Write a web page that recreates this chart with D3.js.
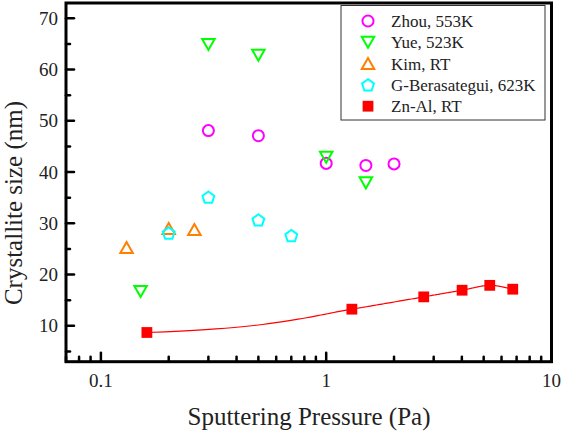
<!DOCTYPE html>
<html><head><meta charset="utf-8">
<script src="https://cdn.jsdelivr.net/npm/d3@7"></script>
<style>
body{margin:0;background:#fff;}
svg{display:block;}
svg text{font-family:'Liberation Serif','Times New Roman',Times,'DejaVu Serif',serif;}
</style></head>
<body>
<svg id="c" width="561" height="438"></svg>
<script>
// ---- data ----
const zhouP = [0.3, 0.5, 1.0, 1.5, 2.0];
const zhouS = [48.1, 47.1, 41.7, 41.3, 41.6];
const yueP = [0.15, 0.3, 0.5, 1.0, 1.5];
const yueS = [16.7, 64.9, 62.8, 42.9, 37.9];
const kimP = [0.13, 0.2, 0.26];
const kimS = [25.3, 29.0, 28.8];
const gbP = [0.2, 0.3, 0.5, 0.7];
const gbS = [28.1, 35.1, 30.65, 27.6];
const znP = [0.16, 1.3, 2.71, 4.01, 5.32, 6.73];
const znS = [8.7, 13.25, 15.65, 16.95, 17.9, 17.15];
const seriesNames = ["Zhou, 553K", "Yue, 523K", "Kim, RT", "G-Berasategui, 623K", "Zn-Al, RT"];
const xTickVals = [0.1, 1, 10];
const xTickLabels = ["0.1", "1", "10"];
const yTickVals = [10, 20, 30, 40, 50, 60, 70];

const FONT = "'Liberation Serif','Times New Roman',Times,serif";

// ---- layout ----
const svg = d3.select("#c");
const L = 66, R = 551.5, T = 3, B = 361.7;
const x = d3.scaleLog().domain([0.07, 10]).range([L, R]);
const y = d3.scaleLinear().domain([3, 73]).range([B, T]);

function markerPath(type, s) {
  const p = d3.path();
  if (type === "circle") { p.arc(0, 0, s * 0.46, 0, 2 * Math.PI); }
  else if (type === "down") { const w = s * 0.52, h = s * 0.46; p.moveTo(-w, -h); p.lineTo(w, -h); p.lineTo(0, h); p.closePath(); }
  else if (type === "up") { const w = s * 0.52, h = s * 0.46; p.moveTo(-w, h); p.lineTo(w, h); p.lineTo(0, -h); p.closePath(); }
  else if (type === "pent") { const r = s * 0.52; for (let i = 0; i < 5; i++) { const a = -Math.PI / 2 + i * 2 * Math.PI / 5; const px = r * Math.cos(a), py = r * Math.sin(a) + r * 0.08; i ? p.lineTo(px, py) : p.moveTo(px, py); } p.closePath(); }
  else if (type === "square") { const h = s * 0.45; p.rect(-h, -h, 2 * h, 2 * h); }
  return p.toString();
}
const series = [
  {name: seriesNames[0], P: zhouP, S: zhouS, type: "circle", color: "#ff00ff", fill: false},
  {name: seriesNames[1], P: yueP, S: yueS, type: "down", color: "#00ff00", fill: false},
  {name: seriesNames[2], P: kimP, S: kimS, type: "up", color: "#ff7f00", fill: false},
  {name: seriesNames[3], P: gbP, S: gbS, type: "pent", color: "#00ffff", fill: false},
  {name: seriesNames[4], P: znP, S: znS, type: "square", color: "#ff0000", fill: true}
];

// Zn-Al smooth line: monotone cubic through the points in linear pressure, drawn on the log axis
function monotoneSpline(xs, ys) {
  const n = xs.length, d = [], m = [];
  for (let i = 0; i < n - 1; i++) d.push((ys[i + 1] - ys[i]) / (xs[i + 1] - xs[i]));
  m[0] = d[0]; m[n - 1] = d[n - 2];
  for (let i = 1; i < n - 1; i++) {
    if (d[i - 1] * d[i] <= 0) m[i] = 0;
    else { const h0 = xs[i] - xs[i - 1], h1 = xs[i + 1] - xs[i]; const w1 = 2 * h1 + h0, w2 = h1 + 2 * h0; m[i] = (w1 + w2) / (w1 / d[i - 1] + w2 / d[i]); }
  }
  return function (t) {
    let i = 0; while (i < n - 2 && t > xs[i + 1]) i++;
    const h = xs[i + 1] - xs[i], s = (t - xs[i]) / h;
    const h00 = 2 * s * s * s - 3 * s * s + 1, h10 = s * s * s - 2 * s * s + s, h01 = -2 * s * s * s + 3 * s * s, h11 = s * s * s - s * s;
    return h00 * ys[i] + h10 * h * m[i] + h01 * ys[i + 1] + h11 * h * m[i + 1];
  };
}
const spl = monotoneSpline(znP, znS);
const curvePts = d3.range(0, 201).map(k => { const t = znP[0] + (znP[znP.length - 1] - znP[0]) * k / 200; return [t, spl(t)]; });
const line = d3.line().x(d => x(d[0])).y(d => y(d[1]));
svg.append("path").attr("d", line(curvePts))
  .attr("fill", "none").attr("stroke", "#ff0000").attr("stroke-width", 1.2);

// markers
series.forEach(s => {
  svg.append("g").selectAll("path").data(s.P.map((p, i) => [p, s.S[i]])).join("path")
    .attr("transform", d => `translate(${x(d[0])},${y(d[1])})`)
    .attr("d", markerPath(s.type, 12))
    .attr("fill", s.fill ? s.color : "none")
    .attr("stroke", s.color).attr("stroke-width", s.fill ? 0 : 2);
});

// ticks (inward)
const tickG = svg.append("g").attr("stroke", "#000").attr("stroke-width", 2.5).attr("stroke-linecap", "round");
const xMinor = [];
[0.01, 0.1, 1].forEach(d => { for (let k = 2; k <= 9; k++) { const v = d * k; if (v >= 0.07 && v < 10) xMinor.push(v); } });
tickG.selectAll(".xm").data(xMinor).join("line")
  .attr("x1", d => x(d)).attr("x2", d => x(d)).attr("y1", B).attr("y2", B - 5);
tickG.selectAll(".xM").data(xTickVals.filter(v => v < 10)).join("line")
  .attr("x1", d => x(d)).attr("x2", d => x(d)).attr("y1", B).attr("y2", B - 9);
const yMinor = d3.range(5, 70, 10);
tickG.selectAll(".ym").data(yMinor).join("line")
  .attr("x1", L).attr("x2", L + 4).attr("y1", d => y(d)).attr("y2", d => y(d));
tickG.selectAll(".yM").data(yTickVals).join("line")
  .attr("x1", L).attr("x2", L + 8).attr("y1", d => y(d)).attr("y2", d => y(d));

// frame
svg.append("rect").attr("x", L).attr("y", T).attr("width", R - L).attr("height", B - T)
  .attr("fill", "none").attr("stroke", "#000").attr("stroke-width", 3);

// tick labels
svg.append("g").selectAll("text").data(yTickVals).join("text")
  .attr("x", 58).attr("y", d => y(d) + 6.5).attr("text-anchor", "end")
  .attr("font-family", FONT).attr("font-size", 19).attr("fill", "#222").text(d => d);
svg.append("g").selectAll("text").data(xTickVals).join("text")
  .attr("x", d => x(d)).attr("y", 386.5).attr("text-anchor", "middle")
  .attr("font-family", FONT).attr("font-size", 19).attr("fill", "#222").text((d, i) => xTickLabels[i]);

// axis titles
svg.append("text").attr("x", 309).attr("y", 425).attr("text-anchor", "middle")
  .attr("font-family", FONT).attr("font-size", 25).attr("fill", "#222").text("Sputtering Pressure (Pa)");
svg.append("text").attr("transform", "translate(22,203) rotate(-90)").attr("text-anchor", "middle")
  .attr("font-family", FONT).attr("font-size", 25).attr("fill", "#222").text("Crystallite size (nm)");

// legend
const lg = svg.append("g");
lg.append("rect").attr("x", 341).attr("y", 5.5).attr("width", 204).attr("height", 114.5)
  .attr("fill", "#fff").attr("stroke", "#333").attr("stroke-width", 1);
series.forEach((s, i) => {
  const cy = 21 + i * 21.3;
  lg.append("path").attr("transform", `translate(368,${cy})`).attr("d", markerPath(s.type, 12))
    .attr("fill", s.fill ? s.color : "none").attr("stroke", s.color).attr("stroke-width", s.fill ? 0 : 2);
  lg.append("text").attr("x", 391).attr("y", cy + 6).attr("font-family", FONT).attr("font-size", 17).attr("fill", "#222").text(s.name);
});
</script>
</body></html>
